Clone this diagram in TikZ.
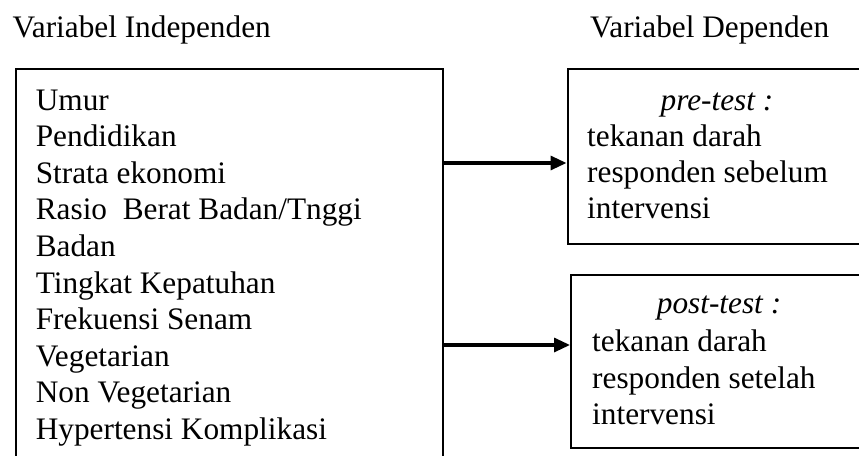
\documentclass[tikz,border=0pt]{standalone}
\usepackage{fontspec}
\setmainfont{Liberation Serif}
\usetikzlibrary{arrows.meta}
\begin{document}
\begin{tikzpicture}[x=1pt,y=-1pt,
  txt/.style={inner sep=0pt, anchor=base west, font=\fontsize{31.3pt}{36.7pt}\selectfont},
  ctxt/.style={inner sep=0pt, anchor=base, font=\fontsize{31.3pt}{36.7pt}\selectfont\itshape},
  boxframe/.style={draw, line width=2.1pt, inner sep=0pt, anchor=north west},
  link/.style={line width=3.2pt, -{Triangle[length=16pt,width=14pt]}}]
\useasboundingbox (0,0) rectangle (859,455);
\clip (0,0) rectangle (859,455);
% headers
\node[txt] (hIndep) at (12.5,37) {Variabel Independen};
\node[txt] (hDep) at (590,37) {Variabel Dependen};
% boxes
\node[boxframe, minimum width=427pt, minimum height=420pt] (indep) at (14.5,68.3) {};
\node[boxframe, minimum width=301.5pt, minimum height=174.4pt] (pre) at (566.5,68.3) {};
\node[boxframe, minimum width=300pt, minimum height=172.7pt] (post) at (570,274) {};
% left list
\foreach \t [count=\i from 0] in {Umur,Pendidikan,Strata ekonomi,Rasio\ \ Berat Badan/Tnggi,Badan,Tingkat Kepatuhan,Frekuensi Senam,Vegetarian,Non Vegetarian,Hypertensi Komplikasi}
  \node[txt] (item\i) at (35.6,110+36.6*\i) {\t};
% pre-test box text
\node[ctxt] (preT) at (717,110) {pre-test :};
\node[txt] (pre1) at (587,146) {tekanan darah};
\node[txt] (pre2) at (587,182.3) {responden sebelum};
\node[txt] (pre3) at (587,218.6) {intervensi};
% post-test box text
\node[ctxt] (postT) at (719,313) {post-test :};
\node[txt] (post1) at (592,351.5) {tekanan darah};
\node[txt] (post2) at (592,388) {responden setelah};
\node[txt] (post3) at (592,424.5) {intervensi};
% connectors
\coordinate (a1) at (0,163);
\coordinate (a2) at (0,345);
\draw[link] (indep.east |- a1) -- (pre.west |- a1);
\draw[link] (indep.east |- a2) -- (post.west |- a2);
\end{tikzpicture}
\end{document}
